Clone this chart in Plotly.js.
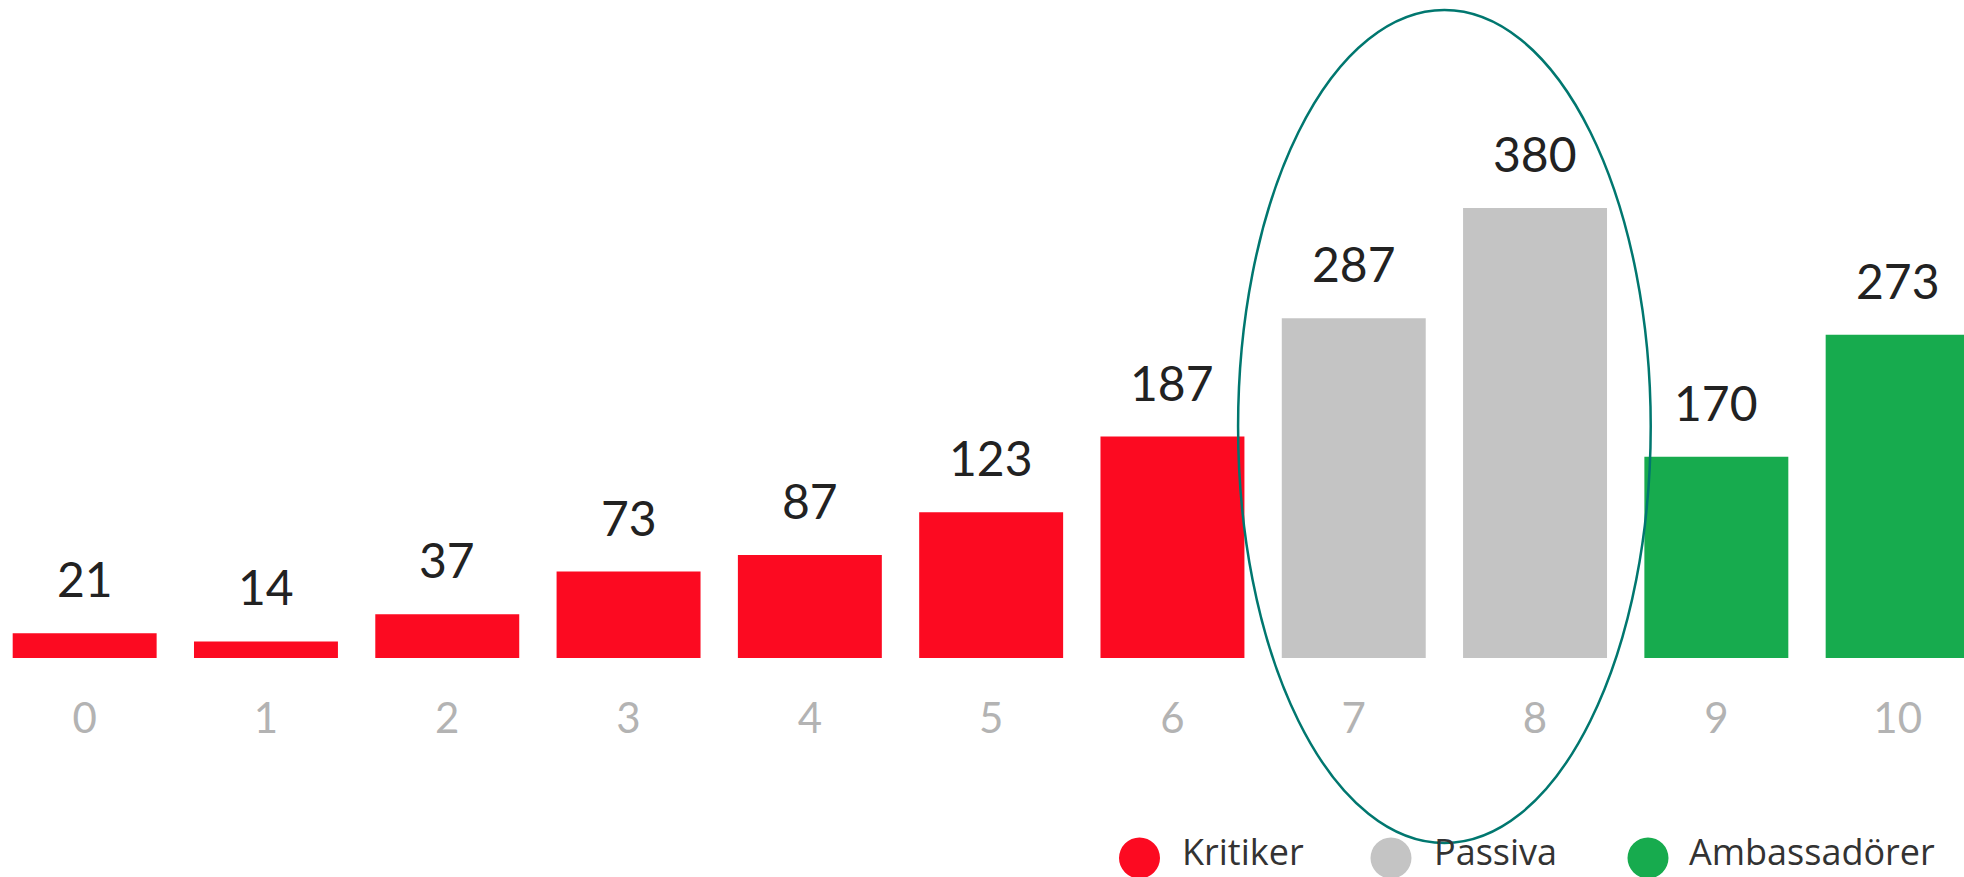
<!DOCTYPE html>
<html>
<head>
<meta charset="utf-8">
<script src="https://cdn.plot.ly/plotly-3.0.1.min.js"></script>
<style>
html,body{margin:0;padding:0;background:#fff;}
#chart{width:1964px;height:877px;}
</style>
</head>
<body>
<div id="chart"></div>
<script>
// ---- data ----
var categories = ["0","1","2","3","4","5","6","7","8","9","10"];
var values = [21, 14, 37, 73, 87, 123, 187, 287, 380, 170, 273];
var groupOf = ["Kritiker","Kritiker","Kritiker","Kritiker","Kritiker","Kritiker","Kritiker","Passiva","Passiva","Ambassadörer","Ambassadörer"];
var seriesNames = ["Kritiker","Passiva","Ambassadörer"];
var seriesColors = ["#FC0A21","#C4C4C4","#17AB4E"];

var FONT = "Lato, 'Open Sans', sans-serif";
var LEGEND_FONT = "'Open Sans', Lato, sans-serif";

var traces = seriesNames.map(function(name, si){
  var xs = [], ys = [];
  categories.forEach(function(c, i){
    if (groupOf[i] === name){ xs.push(c); ys.push(values[i]); }
  });
  return {
    type: 'bar', name: name, x: xs, y: ys,
    marker: {color: seriesColors[si], line: {width: 0}},
    hoverinfo: 'x+y', showlegend: false
  };
});

var W = 1964, H = 877, MB = 219;
var plotH = H - MB;
function py(p){ return (plotH - p) / plotH; } // pixel y -> paper y

var annotations = categories.map(function(c, i){
  return {
    x: c, y: values[i], xref: 'x', yref: 'y',
    text: String(values[i]), showarrow: false,
    xanchor: 'center', yanchor: 'bottom', yshift: 24,
    font: {family: FONT, size: 48, color: '#222222'}
  };
});

// custom legend
var legendCx = [1139.5, 1391, 1648];
var legendTx = [1181, 1433, 1688];
var legendCy = 858;
var shapes = [];
seriesNames.forEach(function(name, si){
  shapes.push({
    type: 'circle', xref: 'paper', yref: 'paper',
    xsizemode: 'pixel', ysizemode: 'pixel',
    xanchor: legendCx[si] / W, yanchor: py(legendCy),
    x0: -20.5, x1: 20.5, y0: -20.5, y1: 20.5,
    fillcolor: seriesColors[si], line: {width: 0}
  });
  annotations.push({
    x: legendTx[si] / W, y: py(H - 0.5), xref: 'paper', yref: 'paper',
    text: name, showarrow: false, xanchor: 'left', yanchor: 'bottom',
    borderpad: 0,
    font: {family: LEGEND_FONT, size: 36, color: '#333333'}
  });
});

// highlight ellipse around the passive group
shapes.push({
  type: 'circle', xref: 'x', yref: 'paper',
  x0: 6.362, x1: 8.638, y0: py(843), y1: py(10),
  line: {color: '#00776F', width: 2.5}, fillcolor: 'rgba(0,0,0,0)', layer: 'above'
});

var layout = {
  width: W, height: H,
  margin: {l: 0, r: 0, t: 0, b: MB, pad: 0},
  paper_bgcolor: '#ffffff', plot_bgcolor: '#ffffff',
  barmode: 'relative', bargap: 0.206,
  showlegend: false,
  xaxis: {
    type: 'category', categoryorder: 'array', categoryarray: categories,
    range: [-0.467, 10.366],
    showgrid: false, zeroline: false, showline: false,
    ticks: '', ticklabelstandoff: 32,
    tickfont: {family: FONT, size: 42, color: '#B3B3B3'},
    fixedrange: true
  },
  yaxis: {
    range: [0, plotH / 1.184],
    showgrid: false, zeroline: false, showline: false,
    showticklabels: false, ticks: '', fixedrange: true
  },
  annotations: annotations,
  shapes: shapes
};

Plotly.newPlot('chart', traces, layout, {displayModeBar: false, staticPlot: true});
</script>
</body>
</html>
